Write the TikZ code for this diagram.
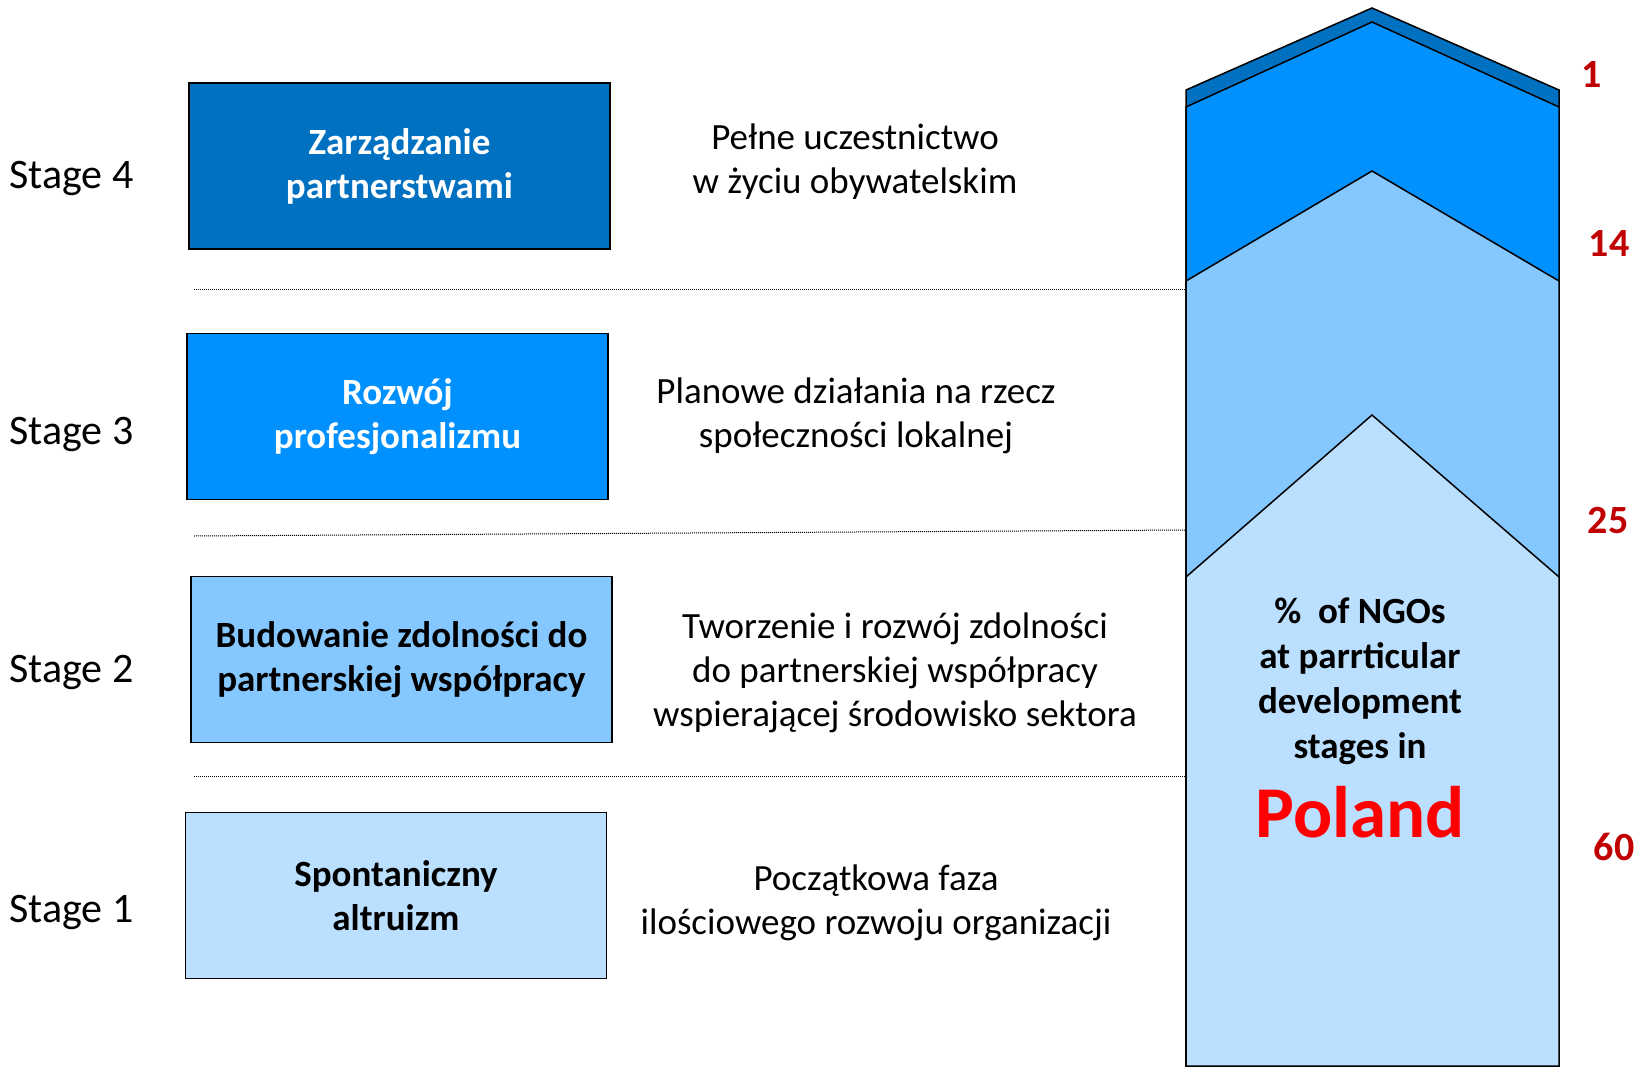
\documentclass[tikz,border=0pt]{standalone}
\usepackage{fontspec}
\setmainfont{Carlito}
\usepackage{xcolor}
\usetikzlibrary{positioning}
\definecolor{stagefour}{HTML}{0070C0}
\definecolor{stagethree}{HTML}{0091FF}
\definecolor{stagetwo}{HTML}{85C8FF}
\definecolor{stageone}{HTML}{BBE0FF}
\definecolor{numred}{HTML}{C00000}
\definecolor{polred}{HTML}{FF0000}
\tikzset{
    stagebox/.style={draw=black,line width=1.5pt,minimum width=421pt,minimum height=166pt,
        align=center,font=\fontsize{37}{44}\selectfont\bfseries},
    stagelabel/.style={anchor=west,font=\fontsize{42}{48}\selectfont},
    stagedesc/.style={align=center,font=\fontsize{37}{44}\selectfont},
    pctnum/.style={text=numred,font=\fontsize{40}{48}\selectfont\bfseries},
    sepline/.style={densely dotted,line width=1pt},
    layer/.style={draw=black,line width=1.5pt,line join=miter}
}
\begin{document}
\begin{tikzpicture}[x=1pt,y=-1pt]
            \useasboundingbox (0,0) rectangle (1643,1067);
            % stage boxes
            \node[stagebox,fill=stagefour,text=white] (zarz) at (399.5,166) {Zarządzanie\\partnerstwami};
            \node[stagebox,fill=stagethree,text=white] (rozw) at (397.5,416.5) {Rozwój\\profesjonalizmu};
            \node[stagebox,fill=stagetwo] (budo) at (401.5,659.5) {Budowanie zdolności do\\partnerskiej współpracy};
            \node[stagebox,fill=stageone] (spon) at (396,895.5) {Spontaniczny\\altruizm};
            \foreach \n/\y in {4/178,3/434,2/672,1/912}{
                    \node[stagelabel] (stage\n) at (6,\y) {Stage \n};}
            % descriptions
            \node[stagedesc] (opis4) at (855,162) {Pełne uczestnictwo\\w życiu obywatelskim};
            \node[stagedesc] (opis3) at (856,416) {Planowe działania na rzecz\\społeczności lokalnej};
            \node[stagedesc] (opis2) at (895,673) {Tworzenie i rozwój zdolności\\do partnerskiej współpracy\\wspierającej środowisko sektora};
            \node[stagedesc] (opis1) at (876,903) {Początkowa faza\\ilościowego rozwoju organizacji};
            % separators
            \coordinate (sepa) at (194,289);
            \coordinate (sepb) at (1186,289);
            \coordinate (sepc) at (194,536);
            \coordinate (sepd) at (1186,530);
            \coordinate (sepe) at (194,776);
            \coordinate (sepf) at (1186,776);
            \draw[sepline](sepa)--(sepb);
            \draw[sepline](sepc)--(sepd);
            \draw[sepline](sepe)--(sepf);
            % arrow of shares
            \draw[layer,fill=stagefour](1186,1066)--(1186,90)--(1372,8)--(1559,90)--(1559,1066)--cycle;
            \draw[layer,fill=stagethree](1186,1066)--(1186,107)--(1372,22)--(1559,107)--(1559,1066)--cycle;
            \draw[layer,fill=stagetwo](1186,1066)--(1186,281)--(1372,171)--(1559,281)--(1559,1066)--cycle;
            \draw[layer,fill=stageone](1186,1066)--(1186,577)--(1372,415)--(1559,577)--(1559,1066)--cycle;
            \node[align=center,font=\fontsize{37}{45}\selectfont\bfseries] (ngos) at (1360,681)
                {\%\ \ of NGOs\\at parrticular\\development\\stages in};
            \node[text=polred,font=\fontsize{73}{80}\selectfont\bfseries] (poland) at (1360,812) {Poland};
            \node[pctnum] (pct1) at (1592,75) {1};
            \node[pctnum] (pct14) at (1609,244) {14};
            \node[pctnum] (pct25) at (1608,521) {25};
            \node[pctnum] (pct60) at (1614,847) {60};
        \end{tikzpicture}
\end{document}
